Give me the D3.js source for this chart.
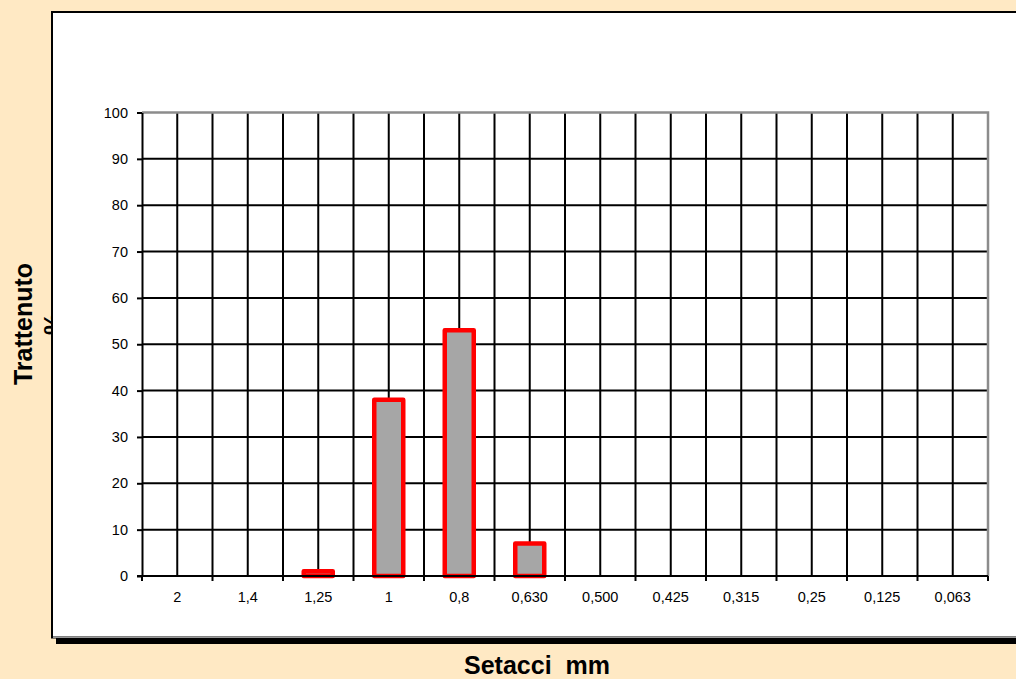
<!DOCTYPE html>
<html>
<head>
<meta charset="utf-8">
<script src="https://cdn.jsdelivr.net/npm/d3@7"></script>
<style>
  html, body { margin: 0; padding: 0; background: #FFE9C4; }
  svg { display: block; font-family: "Liberation Sans", Arial, sans-serif; }
</style>
</head>
<body>
<script>
// sieve sizes (mm) and retained percentage
const sieves = ["2", "1,4", "1,25", "1", "0,8", "0,630", "0,500", "0,425", "0,315", "0,25", "0,125", "0,063"];
const retained = [0, 0, 1, 38, 53, 7, 0, 0, 0, 0, 0, 0];
const yTicks = [0, 10, 20, 30, 40, 50, 60, 70, 80, 90, 100];

const width = 1016, height = 679;
const margin = { top: 112.5, right: 28, bottom: 103, left: 142 };

const svg = d3.select("body").append("svg")
  .attr("width", width)
  .attr("height", height);

// y title goes under the white box (the "%" line gets covered, as in the original)
svg.append("text")
  .attr("transform", "translate(32,324) rotate(-90)")
  .attr("text-anchor", "middle")
  .attr("font-weight", "bold")
  .attr("font-size", 25)
  .attr("fill", "#000")
  .selectAll("tspan")
  .data(["Trattenuto", "%"])
  .join("tspan")
  .attr("x", 0)
  .attr("dy", (d, i) => i === 0 ? 0 : 30)
  .text((d) => d);

// chart box shadow + box
svg.append("rect")
  .attr("x", 56).attr("y", 16)
  .attr("width", 980).attr("height", 628)
  .attr("fill", "#000");
svg.append("rect")
  .attr("x", 52).attr("y", 12)
  .attr("width", 990).attr("height", 625.5)
  .attr("fill", "#fff")
  .attr("stroke", "#000")
  .attr("stroke-width", 2);
svg.append("line")
  .attr("x1", 53).attr("x2", 1016)
  .attr("y1", 637.5).attr("y2", 637.5)
  .attr("stroke", "#999").attr("stroke-width", 1);

const x = d3.scaleBand()
  .domain(sieves)
  .range([margin.left, width - margin.right]);

const y = d3.scaleLinear()
  .domain([0, 100])
  .range([height - margin.bottom, margin.top]);

const plot = svg.append("g");

// horizontal gridlines
plot.append("g")
  .selectAll("line")
  .data(yTicks.slice(1, -1))
  .join("line")
  .attr("x1", x.range()[0]).attr("x2", x.range()[1])
  .attr("y1", (d) => y(d)).attr("y2", (d) => y(d))
  .attr("stroke", "#000").attr("stroke-width", 2);

// vertical gridlines at category edges and centres
const half = x.step() / 2;
const vLines = d3.range(1, sieves.length * 2).map((i) => x.range()[0] + i * half);
plot.append("g")
  .selectAll("line")
  .data(vLines)
  .join("line")
  .attr("x1", (d) => d).attr("x2", (d) => d)
  .attr("y1", y(100)).attr("y2", y(0))
  .attr("stroke", "#000").attr("stroke-width", 2);

// plot area border (top/right grey)
plot.append("path")
  .attr("d", `M${x.range()[0]},${y(100)}H${x.range()[1]}V${y(0)}`)
  .attr("fill", "none")
  .attr("stroke", "#8c8c8c").attr("stroke-width", 2.5);

// bars
const barW = 29;
plot.append("g")
  .selectAll("rect")
  .data(sieves.map((s, i) => ({ s, v: retained[i] })).filter((d) => d.v > 0))
  .join("rect")
  .attr("x", (d) => x(d.s) + x.bandwidth() / 2 - barW / 2)
  .attr("y", (d) => y(d.v))
  .attr("width", barW)
  .attr("height", (d) => y(0) - y(d.v))
  .attr("fill", "#A6A6A6")
  .attr("stroke", "#FF0000")
  .attr("stroke-width", 4.5)
  .attr("stroke-linejoin", "round");

// y axis
const yAxis = svg.append("g")
  .attr("transform", `translate(${margin.left},0)`)
  .call(d3.axisLeft(y).tickValues(yTicks).tickSize(5).tickSizeOuter(0).tickPadding(9));
yAxis.select(".domain").attr("stroke", "#000").attr("stroke-width", 2);
yAxis.selectAll(".tick line").attr("stroke", "#000").attr("stroke-width", 2);
yAxis.selectAll(".tick text").attr("font-size", 14.5).attr("fill", "#000")
  .attr("font-family", "Liberation Sans, Arial, sans-serif");

// x axis: labels at centres, ticks at category boundaries
const xAxis = svg.append("g")
  .attr("transform", `translate(0,${y(0)})`);
xAxis.append("line")
  .attr("x1", x.range()[0] - 5).attr("x2", x.range()[1])
  .attr("stroke", "#000").attr("stroke-width", 2);
xAxis.selectAll(".edge")
  .data(d3.range(0, sieves.length + 1).map((i) => x.range()[0] + i * x.step()))
  .join("line")
  .attr("class", "edge")
  .attr("x1", (d) => d).attr("x2", (d) => d)
  .attr("y1", 0).attr("y2", 5)
  .attr("stroke", "#000").attr("stroke-width", 2);
xAxis.selectAll("text")
  .data(sieves)
  .join("text")
  .attr("x", (d) => x(d) + x.bandwidth() / 2)
  .attr("y", 26)
  .attr("text-anchor", "middle")
  .attr("font-size", 14.5)
  .attr("fill", "#000")
  .text((d) => d);

// x title
svg.append("text")
  .attr("x", 537).attr("y", 674)
  .attr("text-anchor", "middle")
  .attr("font-weight", "bold")
  .attr("font-size", 25)
  .attr("fill", "#000")
  .attr("xml:space", "preserve")
  .style("white-space", "pre")
  .text("Setacci  mm");
</script>
</body>
</html>
